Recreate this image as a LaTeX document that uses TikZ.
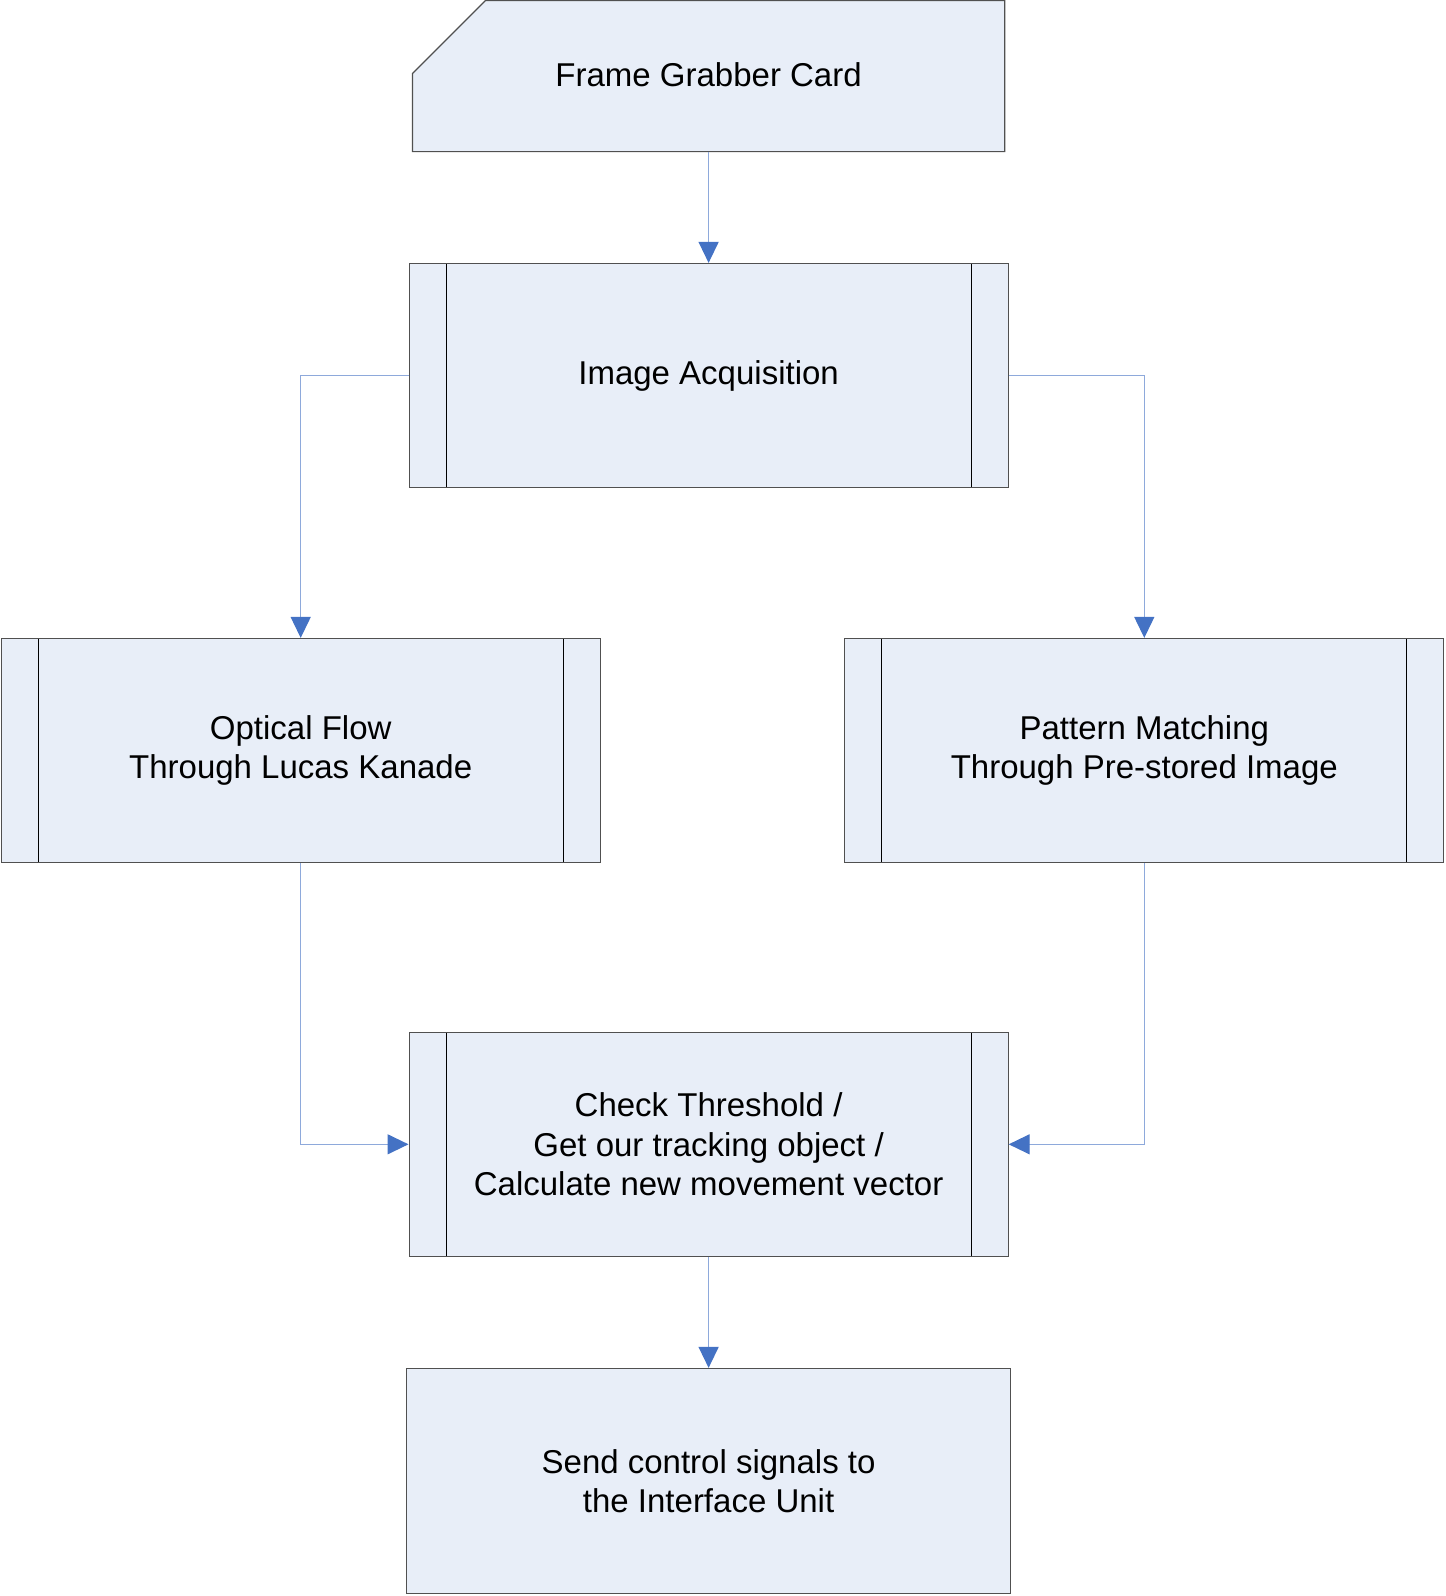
\documentclass[tikz,border=0pt]{standalone}
\usepackage{fontspec}
\setmainfont{Liberation Sans}
\usetikzlibrary{arrows.meta,backgrounds}
\definecolor{boxfill}{HTML}{E8EEF8}
\definecolor{boxline}{HTML}{505050}
\definecolor{flowline}{HTML}{8EA9DB}
\definecolor{flowhead}{HTML}{4472C4}
\tikzset{
    basic/.style={rectangle, fill=boxfill, draw=boxline, line width=1.2pt, align=center,
        font=\fontsize{33}{39.6}\selectfont, inner sep=0pt},
    card/.style={basic, fill=none, draw=none, minimum width=591pt, minimum height=150pt},
    plain box/.style={basic, minimum width=604pt, minimum height=225pt},
    process/.style={basic, minimum width=599pt, minimum height=224pt,
        path picture={
            \draw[black, line width=1.2pt]
                ([xshift=37pt]path picture bounding box.north west) -- ([xshift=37pt]path picture bounding box.south west)
                ([xshift=-37pt]path picture bounding box.north east) -- ([xshift=-37pt]path picture bounding box.south east);}},
    flow/.style={draw=flowline, line width=1.3pt, -{Triangle[length=21pt,width=20pt,color=flowhead]}}
}
\begin{document}
\begin{tikzpicture}[x=1pt, y=-1pt]
	\useasboundingbox (0,0) rectangle (1446,1596);
	% boxes
	\node[card] (grabber) at (708.6,76) {\raisebox{2pt}{Frame Grabber Card}};
	\node[process] (acquire) at (708.6,375.5) {\raisebox{-2pt}{Image Acquisition}};
	\node[process] (optflow) at (300.7,750.5) {Optical Flow\\Through Lucas Kanade};
	\node[process] (pattern) at (1144.3,750.5) {Pattern Matching\\Through Pre-stored Image};
	\node[process] (check) at (708.6,1144.3) {Check Threshold /\\Get our tracking object /\\Calculate new movement vector};
	\node[plain box] (signals) at (708.6,1481) {Send control signals to\\the Interface Unit};
	\begin{scope}[on background layer]
		\filldraw[fill=boxfill, draw=boxline, line width=1.2pt]
			([xshift=73pt]grabber.north west) -- (grabber.north east) -- (grabber.south east)
			-- (grabber.south west) -- ([yshift=-73pt]grabber.north west) -- cycle;
	\end{scope}
	% connectors
	\draw[flow] (grabber.south) -- (acquire.north);
	\draw[flow] (acquire.west) -| (optflow.north);
	\draw[flow] (acquire.east) -| (pattern.north);
	\draw[flow] (optflow.south) |- (check.west);
	\draw[flow] (pattern.south) |- (check.east);
	\draw[flow] (check.south) -- (signals.north);
\end{tikzpicture}
\end{document}
